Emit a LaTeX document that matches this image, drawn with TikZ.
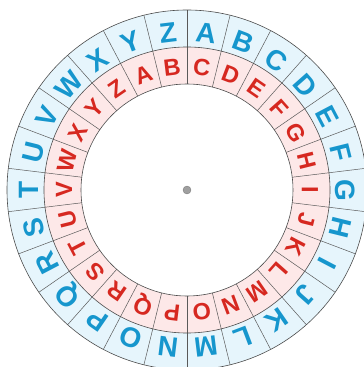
\documentclass[tikz,border=0pt]{standalone}
\usepackage{fontspec}
\setmainfont{Liberation Sans}
\usepackage{xcolor}
\usepackage{tikz}
\usetikzlibrary{positioning}

\definecolor{wheelblue}{RGB}{22,150,205}
\definecolor{wheelred}{RGB}{214,40,32}
\definecolor{bluering}{RGB}{230,245,252}
\definecolor{redring}{RGB}{253,232,232}

\begin{document}
\begin{tikzpicture}[
    x=1pt, y=1pt,
    outerletter/.style={font=\fontsize{28}{28}\selectfont\bfseries, text=wheelblue, inner sep=0pt},
    innerletter/.style={font=\fontsize{23.5}{23.5}\selectfont\bfseries, text=wheelred, inner sep=0pt},
    divider/.style={draw=black!65, line width=0.5pt},
    rim/.style={draw=black!70, line width=0.6pt},
    hub/.style={circle, fill=gray!75, draw=gray!90!black, line width=0.3pt, minimum size=8pt, inner sep=0pt}
]
    \clip (-187,-177) rectangle (177,190);

    % Rings
    \fill[bluering] (0,0) circle (180);
    \fill[redring] (0,0) circle (143);
    \fill[white] (0,0) circle (106);

    % Sector lines
    \foreach \k in {0,...,25}
        \draw[divider] (90-\k*360/26:106) -- (90-\k*360/26:180);
    \draw[rim] (0,0) circle (180);
    \draw[rim] (0,0) circle (143);
    \draw[rim] (0,0) circle (106);

    % Outer alphabet
    \foreach \l [count=\i from 0] in {A,B,C,D,E,F,G,H,I,J,K,L,M,N,O,P,Q,R,S,T,U,V,W,X,Y,Z} {
        \pgfmathsetmacro{\ang}{90-(\i+0.5)*360/26}
        \node[outerletter, rotate=\ang-90] (out-\l) at (\ang:158) {\l};
    }

    % Inner alphabet (shift by two)
    \foreach \l [count=\i from 0] in {C,D,E,F,G,H,I,J,K,L,M,N,O,P,Q,R,S,T,U,V,W,X,Y,Z,A,B} {
        \pgfmathsetmacro{\ang}{90-(\i+0.5)*360/26}
        \node[innerletter, rotate=\ang-90] (in-\l) at (\ang:123) {\l};
    }

    % Pivot
    \node[hub] (pivot) at (0,0) {};
\end{tikzpicture}
\end{document}
